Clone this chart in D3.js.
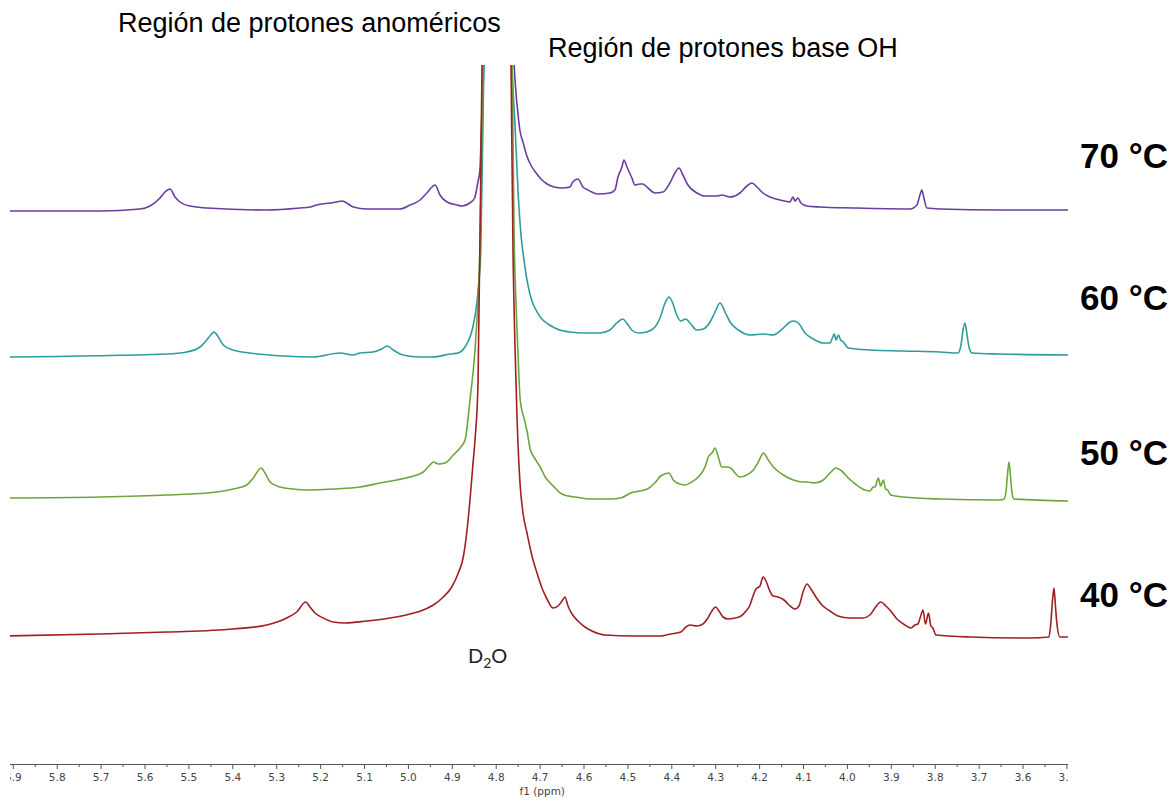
<!DOCTYPE html>
<html>
<head>
<meta charset="utf-8">
<script src="https://cdn.jsdelivr.net/npm/d3@7"></script>
<style>
  html, body { margin: 0; padding: 0; background: #fff; }
  svg { display: block; }
</style>
</head>
<body>
<svg id="chart" width="1172" height="800"></svg>
<script>
// ---------- DATA (ppm, intensity above own baseline) ----------
const temperatures = ["70 °C", "60 °C", "50 °C", "40 °C"];
const colors = ["#6a3d9e", "#2f9c9c", "#6ca63a", "#a01f22"];
const offsets = [426, 281, 137, 0];           // vertical stacking offset (intensity units)
const labelIntensity = [468, 326, 171, 29];    // where the temperature labels sit
const D2O_APEX = 1500;                         // residual HOD/D2O signal, off scale

const spectrum70 = [
  [5.92,-1],[5.7014,-1],[5.6103,1],[5.5875,4],[5.5647,12],[5.5533,18],[5.5419,21],[5.5305,13],
  [5.5191,8],[5.4964,4],[5.4583,2],[5.3216,0],[5.2456,2],[5.2230,3],[5.2078,5],[5.1774,7],
  [5.1622,8],[5.1494,9],[5.1394,7],[5.1244,3],[5.0938,1],[5.0180,1],[4.9952,5],[4.9724,10],
  [4.9570,17],[4.9380,25],[4.9270,15],[4.9110,8],[4.8880,5],[4.8770,4],[4.8590,7],[4.8480,12],
  [4.8410,27],[4.8360,40],[4.8320,90],[4.8270,145],
  [4.795,D2O_APEX],
  [4.7580,145],[4.7540,118],[4.7490,95],[4.7450,80],[4.7380,68],[4.7290,54],[4.7200,45],
  [4.7080,37],[4.6970,31],[4.6830,26],[4.6670,23],[4.6490,22],[4.6310,23],[4.6244,28],
  [4.6126,31],[4.6013,23],[4.5899,20],[4.5671,16],[4.5398,17],[4.5284,20],[4.5216,33],
  [4.5125,43],[4.5080,50],[4.5011,43],[4.4897,32],[4.4829,25],[4.4715,26],[4.4647,26],
  [4.4533,22],[4.4373,17],[4.4191,18],[4.4032,27],[4.3918,37],[4.3827,42],[4.3736,35],
  [4.3622,25],[4.3417,17],[4.3235,14],[4.2961,14],[4.2848,15],[4.2665,13],[4.2437,17],
  [4.2278,24],[4.2164,27],[4.2050,23],[4.1913,17],[4.1754,13],[4.1526,10],[4.1298,8],
  [4.1230,13],[4.1184,9],[4.1116,12],[4.1048,7],[4.0911,4],[4.0615,3],[3.9863,2],[3.8565,1],
  [3.8405,5],[3.8337,15],[3.8292,20],[3.8246,12],[3.8178,2],[3.7882,1],[3.651,0],[3.49,0]
];
const spectrum60 = [
  [5.92,-2],[5.5495,1],[5.5039,3],[5.4736,8],[5.4583,15],[5.4492,20],[5.4417,23],[5.4319,18],
  [5.4205,10],[5.3984,5],[5.3597,2],[5.2845,-1],[5.2162,-2],[5.1547,2],[5.1250,0],[5.1091,2],
  [5.0795,3],[5.0597,6],[5.0469,9],[5.0333,5],[5.0112,0],[4.9724,-2],[4.9428,-2],[4.9041,1],
  [4.8859,2],[4.8699,8],[4.8586,18],[4.8520,28],[4.8430,52],[4.8380,75],[4.8340,105],[4.8270,290],
  [4.795,D2O_APEX],
  [4.7629,290],[4.7561,230],[4.7493,165],[4.7424,120],[4.7356,95],[4.7288,75],[4.7197,57],
  [4.7083,45],[4.6969,37],[4.6809,31],[4.6604,26],[4.6308,23],[4.5967,22],[4.5625,22],
  [4.5398,25],[4.5244,32],[4.5107,36],[4.5016,32],[4.4902,25],[4.4751,22],[4.4560,23],
  [4.4371,28],[4.4257,37],[4.4143,52],[4.4052,58],[4.3968,52],[4.3877,40],[4.3786,34],
  [4.3672,36],[4.3574,32],[4.3421,25],[4.3271,26],[4.3118,33],[4.3004,43],[4.2890,52],
  [4.2776,43],[4.2662,33],[4.2473,25],[4.2207,20],[4.1904,21],[4.1676,20],[4.1449,27],
  [4.1296,33],[4.1221,34],[4.1107,32],[4.0955,22],[4.0765,16],[4.0537,12],[4.0385,12],
  [4.0323,18],[4.0287,21],[4.0248,15],[4.0196,20],[4.0141,15],[4.0082,13],[3.9968,7],
  [3.9474,5],[3.8722,4],[3.7879,3],[3.7469,2],[3.7401,10],[3.7355,25],[3.7310,32],[3.7264,20],
  [3.7219,8],[3.7150,2],[3.6512,1],[3.49,0]
];
const spectrum50 = [
  [5.92,1],[5.7014,2],[5.5494,4],[5.4355,7],[5.3977,10],[5.3672,14],[5.3522,21],[5.3346,31],
  [5.3255,26],[5.3141,17],[5.2913,12],[5.2610,10],[5.2305,9],[5.1706,10],[5.1091,12],[5.0636,16],
  [5.0255,19],[4.9877,23],[4.9649,27],[4.9497,34],[4.9421,37],[4.9308,35],[4.9155,36],
  [4.8966,44],[4.8813,51],[4.8699,59],[4.8586,99],[4.8472,149],[4.8403,199],[4.8358,249],
  [4.8290,434],
  [4.795,D2O_APEX],
  [4.7624,434],[4.7579,260],[4.7533,190],[4.7488,140],[4.7442,99],[4.7351,80],[4.7283,67],
  [4.7215,50],[4.7101,40],[4.6987,32],[4.6873,22],[4.6759,16],[4.6645,11],[4.6531,6],
  [4.6349,3],[4.6189,2],[4.5848,0],[4.5380,0],[4.5152,1],[4.4925,6],[4.4546,10],[4.4357,17],
  [4.4243,23],[4.4052,26],[4.3955,19],[4.3802,15],[4.3688,14],[4.3535,17],[4.3385,22],
  [4.3232,32],[4.3157,42],[4.3057,47],[4.3004,51],[4.2929,42],[4.2852,32],[4.2738,32],
  [4.2647,31],[4.2549,26],[4.2435,22],[4.2283,24],[4.2132,29],[4.2018,37],[4.1904,46],
  [4.1790,39],[4.1676,32],[4.1449,24],[4.1221,19],[4.0993,17],[4.0916,17],[4.0727,16],
  [4.0537,19],[4.0385,26],[4.0248,31],[4.0118,28],[3.9968,21],[3.9777,14],[3.9588,9],
  [3.9474,8],[3.9399,12],[3.9360,12],[3.9285,21],[3.9230,13],[3.9171,19],[3.9117,10],
  [3.9071,9],[3.9003,4],[3.8715,2],[3.7879,0],[3.6512,-1],[3.6420,0],[3.6375,8],[3.6341,25],
  [3.6307,37],[3.6273,22],[3.6239,6],[3.6193,0],[3.49,-2]
];
const spectrum40 = [
  [5.92,0],[5.7014,2],[5.5494,4],[5.3977,7],[5.3216,11],[5.2761,18],[5.2533,24],[5.2328,34],
  [5.2230,29],[5.2116,23],[5.1927,18],[5.1699,14],[5.1433,13],[5.0938,15],[5.0408,18],
  [4.9952,22],[4.9649,26],[4.9421,31],[4.9194,39],[4.9002,49],[4.8852,63],[4.8738,79],
  [4.8661,103],[4.8586,136],[4.8524,169],[4.8472,196],[4.8403,253],[4.8312,571],
  [4.797,D2O_APEX],
  [4.7651,571],[4.7606,386],[4.7561,290],[4.7515,219],[4.7447,153],[4.7379,123],[4.7288,103],
  [4.7174,80],[4.7060,63],[4.6946,48],[4.6832,37],[4.6695,28],[4.6581,30],[4.6490,35],
  [4.6422,39],[4.6353,30],[4.6262,22],[4.6126,15],[4.5967,9],[4.5807,5],[4.5511,1],[4.4875,0],
  [4.4260,0],[4.4010,2],[4.3782,4],[4.3668,9],[4.3577,11],[4.3417,10],[4.3281,12],[4.3167,18],
  [4.3076,25],[4.2991,29],[4.2913,25],[4.2822,19],[4.2708,17],[4.2549,18],[4.2412,20],
  [4.2298,25],[4.2207,31],[4.2139,40],[4.2071,47],[4.1980,50],[4.1911,59],[4.1843,55],
  [4.1775,47],[4.1684,40],[4.1570,39],[4.1433,36],[4.1319,31],[4.1183,27],[4.1092,30],
  [4.1000,44],[4.0911,52],[4.0820,47],[4.0706,39],[4.0569,31],[4.0387,25],[4.0205,20],
  [3.9932,18],[3.9636,18],[3.9476,21],[3.9362,28],[3.9226,34],[3.9112,30],[3.9021,26],
  [3.8861,17],[3.8679,11],[3.8542,8],[3.8451,11],[3.8383,12],[3.8326,19],[3.8267,26],
  [3.8211,12],[3.8142,23],[3.8087,10],[3.8042,8],[3.7973,1],[3.7198,-1],[3.5831,-2],
  [3.5398,-1],[3.5353,14],[3.5318,35],[3.5284,48],[3.5250,30],[3.5216,12],[3.5148,-1],[3.49,-1]
];
const spectra = [spectrum70, spectrum60, spectrum50, spectrum40];

const regionTitles = ["Región de protones anoméricos", "Región de protones base OH"];
const axisTitle = "f1 (ppm)";
const ppmDomain = [5.9064, 3.4964];
const majorTicks = d3.range(59, 34, -1).map(v => v / 10);
const minorTicks = d3.range(585, 349, -10).map(v => v / 100);

// ---------- LAYOUT ----------
const svg = d3.select("#chart");
const plotLeft = 10, plotRight = 1068, plotTop = 65, axisY = 764;

const x = d3.scaleLinear().domain(ppmDomain).range([plotLeft, plotRight]);
const y = d3.scaleLinear().domain([0, 571]).range([636, 65]);

const defs = svg.append("defs");
defs.append("clipPath").attr("id", "plotClip")
  .append("rect").attr("x", plotLeft).attr("y", plotTop)
  .attr("width", plotRight - plotLeft).attr("height", axisY - plotTop - 4);
defs.append("clipPath").attr("id", "axisClip")
  .append("rect").attr("x", plotLeft).attr("y", axisY - 5)
  .attr("width", plotRight - plotLeft + 1).attr("height", 40);

// spectra
const plot = svg.append("g").attr("clip-path", "url(#plotClip)");
spectra.forEach((s, i) => {
  const line = d3.line()
    .x(d => x(d[0]))
    .y(d => y(d[1] + offsets[i]))
    .curve(d3.curveMonotoneX);
  plot.append("path")
    .datum(s)
    .attr("fill", "none")
    .attr("stroke", colors[i])
    .attr("stroke-width", 1.6)
    .attr("stroke-linejoin", "round")
    .attr("d", line);
});

// temperature labels
temperatures.forEach((t, i) => {
  svg.append("text")
    .attr("x", 1080)
    .attr("y", y(labelIntensity[i]))
    .attr("font-family", "Liberation Sans, Arial, sans-serif")
    .attr("font-weight", "bold")
    .attr("font-size", 35)
    .attr("fill", "#000")
    .text(t);
});

// region titles
svg.append("text").attr("x", 118).attr("y", 32)
  .attr("font-family", "Liberation Sans, Arial, sans-serif")
  .attr("font-size", 27).attr("fill", "#000").text(regionTitles[0]);
svg.append("text").attr("x", 548).attr("y", 57)
  .attr("font-family", "Liberation Sans, Arial, sans-serif")
  .attr("font-size", 27).attr("fill", "#000").text(regionTitles[1]);

// D2O label
const d2o = svg.append("text").attr("x", 468).attr("y", 663)
  .attr("font-family", "Lato, Open Sans, sans-serif")
  .attr("font-size", 20).attr("fill", "#222");
d2o.append("tspan").text("D");
d2o.append("tspan").attr("font-size", 14).attr("dy", 5).text("2");
d2o.append("tspan").attr("dy", -5).text("O");

// axis
const axisG = svg.append("g").attr("clip-path", "url(#axisClip)");
const major = d3.axisBottom(x).tickValues(majorTicks).tickSize(5)
  .tickFormat(d3.format(".1f")).tickSizeOuter(0);
const ag = axisG.append("g").attr("transform", `translate(0,${axisY})`).call(major);
ag.select(".domain").attr("stroke", "#555").attr("d", `M${plotLeft},0.5H${plotRight}`);
ag.selectAll(".tick line").attr("stroke", "#555");
ag.selectAll(".tick text")
  .attr("font-family", "DejaVu Sans, Verdana, sans-serif")
  .attr("font-size", 10.5).attr("fill", "#444").attr("dy", "0.9em");
const minor = d3.axisBottom(x).tickValues(minorTicks).tickSize(3).tickFormat("").tickSizeOuter(0);
const mg = axisG.append("g").attr("transform", `translate(0,${axisY})`).call(minor);
mg.select(".domain").remove();
mg.selectAll(".tick line").attr("stroke", "#555");

svg.append("text").attr("x", x(4.694)).attr("y", 795)
  .attr("text-anchor", "middle")
  .attr("font-family", "DejaVu Sans, Verdana, sans-serif")
  .attr("font-size", 10.5).attr("fill", "#444").text(axisTitle);
</script>
</body>
</html>
